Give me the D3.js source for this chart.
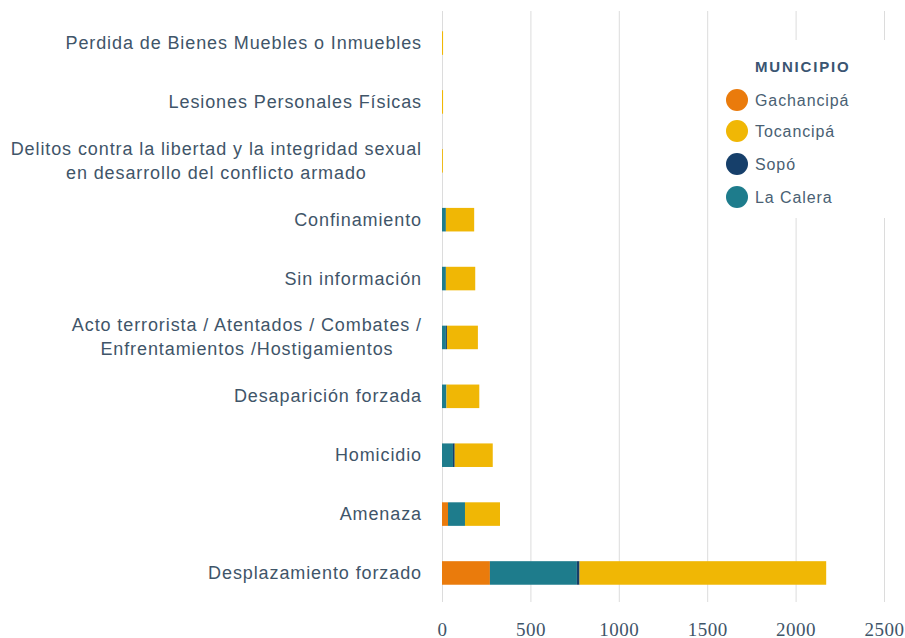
<!DOCTYPE html>
<html>
<head>
<meta charset="utf-8">
<script src="https://cdn.jsdelivr.net/npm/d3@7"></script>
<style>
  html, body { margin: 0; padding: 0; background: #ffffff; }
  svg { display: block; }
</style>
</head>
<body>
<svg id="chart" width="905" height="638"></svg>
<script>
// Victim counts by event type, split by municipality
const categories = [
  ["Perdida de Bienes Muebles o Inmuebles"],
  ["Lesiones Personales Físicas"],
  ["Delitos contra la libertad y la integridad sexual", "en desarrollo del conflicto armado"],
  ["Confinamiento"],
  ["Sin información"],
  ["Acto terrorista / Atentados / Combates /", "Enfrentamientos /Hostigamientos"],
  ["Desaparición forzada"],
  ["Homicidio"],
  ["Amenaza"],
  ["Desplazamiento forzado"]
];
const gachancipa = [0, 0, 0, 0, 0, 0, 0, 0, 34, 271];
const laCalera   = [0, 0, 0, 22, 22, 22, 25, 62, 96, 492];
const sopo       = [0, 0, 0, 0, 0, 6, 0, 10, 0, 15];
const tocancipa  = [6, 6, 5, 160, 166, 175, 186, 215, 198, 1395];

const legendNames = ["Gachancipá", "Tocancipá", "Sopó", "La Calera"];
const colors = {
  "Gachancipá": "#ea7b0c",
  "Tocancipá": "#f0b705",
  "Sopó": "#163f6a",
  "La Calera": "#1e7c8c"
};
const xTicks = [0, 500, 1000, 1500, 2000, 2500];

// stacking order along each bar
const stackKeys = ["Gachancipá", "La Calera", "Sopó", "Tocancipá"];
const seriesByKey = {
  "Gachancipá": gachancipa,
  "La Calera": laCalera,
  "Sopó": sopo,
  "Tocancipá": tocancipa
};
const rows = categories.map((c, i) => {
  const r = { key: c.join(" ") };
  stackKeys.forEach(k => { r[k] = seriesByKey[k][i]; });
  return r;
});

const svg = d3.select("#chart");
const labelColor = "#3f5569";

const x = d3.scaleLinear().domain([0, 2500]).range([442, 884]);
const y = d3.scaleBand()
  .domain(rows.map(r => r.key))
  .range([13.6, 602.4])
  .paddingInner(0.6)
  .paddingOuter(0.3);

// vertical grid lines
svg.append("g")
  .selectAll("line")
  .data(xTicks)
  .join("line")
  .attr("x1", d => x(d) + 0.5)
  .attr("x2", d => x(d) + 0.5)
  .attr("y1", 11)
  .attr("y2", 602)
  .attr("stroke", "#dcdcdc")
  .attr("stroke-width", 1);

// stacked bars
const stacked = d3.stack().keys(stackKeys)(rows);
svg.append("g")
  .selectAll("g")
  .data(stacked)
  .join("g")
  .attr("fill", s => colors[s.key])
  .selectAll("rect")
  .data(s => s)
  .join("rect")
  .attr("x", d => x(d[0]))
  .attr("width", d => Math.max(0, x(d[1]) - x(d[0])))
  .attr("y", d => y(d.data.key))
  .attr("height", y.bandwidth());

// category labels (multi-line labels centred on their widest line)
const labelRight = 422;
const labelG = svg.append("g")
  .attr("font-family", "'Liberation Sans', Arial, sans-serif")
  .attr("font-size", 18)
  .attr("letter-spacing", 0.9)
  .attr("fill", labelColor);

categories.forEach((lines, i) => {
  const cy = y(rows[i].key) + y.bandwidth() / 2;
  const lh = 24;
  const t = labelG.append("text").attr("dominant-baseline", "central");
  lines.forEach((ln, j) => {
    t.append("tspan")
      .attr("y", cy + (j - (lines.length - 1) / 2) * lh)
      .text(ln);
  });
  if (lines.length === 1) {
    t.attr("text-anchor", "end").selectAll("tspan").attr("x", labelRight);
  } else {
    const maxW = d3.max(t.selectAll("tspan").nodes(), n => n.getComputedTextLength());
    t.attr("text-anchor", "middle").selectAll("tspan").attr("x", labelRight - maxW / 2);
  }
});

// x axis tick labels
const xAxis = d3.axisBottom(x).tickValues(xTicks).tickFormat(d3.format("d")).tickSize(0).tickPadding(0);
const axisG = svg.append("g")
  .attr("transform", "translate(0,629)")
  .call(xAxis);
axisG.select(".domain").remove();
axisG.selectAll("text")
  .attr("font-family", "'Liberation Serif', 'Times New Roman', serif")
  .attr("font-size", 19)
  .attr("letter-spacing", 0.5)
  .attr("fill", labelColor)
  .attr("dy", null)
  .attr("dominant-baseline", "central");

// legend
const lg = svg.append("g");
lg.append("rect")
  .attr("x", 709).attr("y", 40)
  .attr("width", 186).attr("height", 178)
  .attr("fill", "#ffffff");
lg.append("text")
  .attr("x", 755).attr("y", 66)
  .attr("dominant-baseline", "central")
  .attr("font-family", "'Liberation Sans', Arial, sans-serif")
  .attr("font-size", 15)
  .attr("font-weight", "bold")
  .attr("letter-spacing", 1.8)
  .attr("fill", "#3a5572")
  .text("MUNICIPIO");
const legendY = [100, 131, 164, 197];
legendNames.forEach((name, i) => {
  lg.append("circle")
    .attr("cx", 737).attr("cy", legendY[i])
    .attr("r", 11)
    .attr("fill", colors[name]);
  lg.append("text")
    .attr("x", 755).attr("y", legendY[i])
    .attr("dominant-baseline", "central")
    .attr("font-family", "'Liberation Sans', Arial, sans-serif")
    .attr("font-size", 16)
    .attr("letter-spacing", 0.9)
    .attr("fill", "#4a5f73")
    .text(name);
});
</script>
</body>
</html>
